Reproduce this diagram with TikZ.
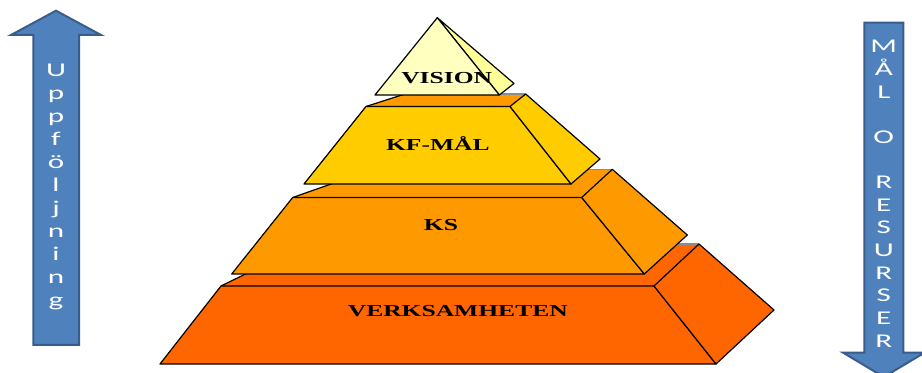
\documentclass[tikz,border=0pt]{standalone}
\usepackage{fontspec}
\setmainfont{Liberation Serif}
\newfontfamily\arrowfont{Carlito}
\definecolor{tierD}{HTML}{FF6600}
\definecolor{tierC}{HTML}{FF9900}
\definecolor{tierB}{HTML}{FFCC00}
\definecolor{apexfront}{HTML}{FFFFC0}
\definecolor{apexside}{HTML}{FFFF99}
\definecolor{arrowfill}{HTML}{4F81BD}
\definecolor{arrowline}{HTML}{385D8A}
\tikzset{
  edge/.style={draw=black,line width=0.9pt,line join=round},
  backedge/.style={draw=black!45,line width=0.9pt},
  shade/.style={fill=black!35},
  bigarrow/.style={fill=arrowfill,draw=arrowline,line width=1.5pt,line join=miter},
  tierlabel/.style={inner sep=0pt,anchor=base,font=\fontsize{12.6pt}{14pt}\selectfont\bfseries},
  arrowletter/.style={inner sep=0pt,anchor=base,text=white,font=\arrowfont\fontsize{14.6pt}{16pt}\selectfont}
}
\newcommand{\wide}[1]{\scalebox{1.52}[1]{#1}}
\newcommand{\awide}[1]{\scalebox{1.6}[1]{#1}}
\begin{document}
\begin{tikzpicture}[x=0.75pt,y=-0.75pt]
\useasboundingbox (0,0) rectangle (922,373);
\clip (0,0) rectangle (922,373);

% ---------- bottom tier ----------
\coordinate (dA) at (160,364);
\coordinate (dB) at (221,286);
\coordinate (dC) at (654,286);
\coordinate (dD) at (716,364);
\coordinate (dE) at (699,244);
\coordinate (dF) at (774,310);
\coordinate (dG) at (307,244);
\fill[shade,shift={(1,1.5)}] (dA) -- (dB) -- (dG) -- (dE) -- (dF) -- (dD) -- cycle;
\fill[tierD] (dB) -- (dG) -- (dE) -- (dC) -- cycle;
\draw[backedge] (dG) -- (dE);
\draw[edge] (dB) -- (dG);
\filldraw[edge,fill=tierD] (dA) -- (dB) -- (dC) -- (dD) -- cycle;
\filldraw[edge,fill=tierD] (dC) -- (dE) -- (dF) -- (dD) -- cycle;

% ---------- second tier ----------
\coordinate (cA) at (231.7,274);
\coordinate (cB) at (292.7,197.5);
\coordinate (cC) at (581.7,197.5);
\coordinate (cD) at (644.3,274);
\coordinate (cE) at (612.3,169.3);
\coordinate (cF) at (687.3,235);
\coordinate (cG) at (373,169.3);
\fill[shade,shift={(1,1.5)}] (cA) -- (cB) -- (cG) -- (cE) -- (cF) -- (cD) -- cycle;
\fill[tierC] (cB) -- (cG) -- (cE) -- (cC) -- cycle;
\draw[backedge] (cG) -- (cE);
\draw[edge] (cB) -- (cG);
\filldraw[edge,fill=tierC] (cA) -- (cB) -- (cC) -- (cD) -- cycle;
\filldraw[edge,fill=tierC] (cC) -- (cE) -- (cF) -- (cD) -- cycle;

% ---------- third tier ----------
\coordinate (bA) at (304,184);
\coordinate (bB) at (366,106.5);
\coordinate (bC) at (510,106.5);
\coordinate (bD) at (571,184);
\coordinate (bE) at (525.7,94);
\coordinate (bF) at (600,159);
\coordinate (bG) at (405,94);
\fill[shade,shift={(1,1.5)}] (bA) -- (bB) -- (bG) -- (bE) -- (bF) -- (bD) -- cycle;
\fill[tierC] (bB) -- (bG) -- (bE) -- (bC) -- cycle;
\draw[backedge] (bG) -- (bE);
\draw[edge] (bB) -- (bG);
\filldraw[edge,fill=tierB] (bA) -- (bB) -- (bC) -- (bD) -- cycle;
\filldraw[edge,fill=tierB] (bC) -- (bE) -- (bF) -- (bD) -- cycle;

% ---------- apex ----------
\coordinate (aT) at (437.3,17.7);
\coordinate (aL) at (375,95);
\coordinate (aR) at (499.3,95);
\coordinate (aS) at (514,83.5);
\filldraw[edge,fill=apexside] (aT) -- (aS) -- (aR) -- cycle;
\filldraw[edge,fill=apexfront] (aT) -- (aL) -- (aR) -- cycle;

% ---------- tier labels ----------
\node[tierlabel] (vision) at (446.7,84) {\wide{VISION}};
\node[tierlabel] (kfmal) at (437.8,150.7) {\wide{KF-MÅL}};
\node[tierlabel] (ks) at (441,231) {\wide{KS}};
\node[tierlabel] (verksamheten) at (457.8,316.5) {\wide{VERKSAMHETEN}};

% ---------- upward arrow ----------
\path[bigarrow] (33.3,345) -- (33.3,35) -- (11,35) -- (56,10.7) -- (101,35)
  -- (79,35) -- (79,345) -- cycle;
\foreach \ch [count=\i from 0] in {U,p,p,f,ö,l,j,n,i,n,g}
  \node[arrowletter] (up\i) at (56,76.5+23*\i) {\awide{\ch}};

% ---------- downward arrow ----------
\path[bigarrow] (864.3,22.7) -- (903.3,22.7) -- (903.3,352.7) -- (924.5,352.7)
  -- (883.8,377) -- (843.1,352.7) -- (864.3,352.7) -- cycle;
\foreach \ch [count=\i from 0] in {M,Å,L,{},O,{},R,E,S,U,R,S,E,R}
  \node[arrowletter] (down\i) at (883.8,52.7+22.66*\i) {\awide{\ch}};
\end{tikzpicture}
\end{document}
